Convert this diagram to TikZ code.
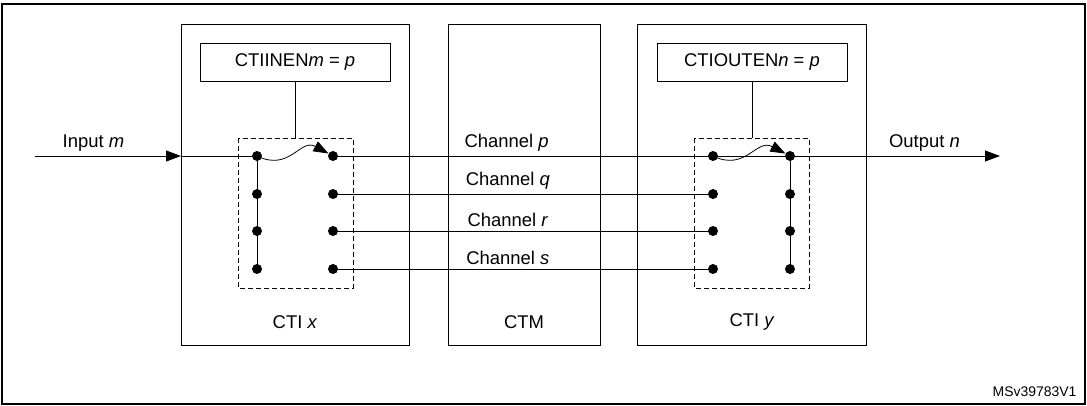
\documentclass[tikz,border=0pt]{standalone}
\usepackage{fontspec}
\setmainfont{Liberation Sans}
\usetikzlibrary{arrows.meta,positioning}

\begin{document}
\begin{tikzpicture}[x=1bp,y=-1bp,>={Triangle[length=15bp,width=11bp]},
    font=\fontsize{18.5}{22}\selectfont,
    blk/.style={draw,line width=0.8bp,minimum width=#1,minimum height=321bp,anchor=north west},
    reg/.style={draw,line width=0.8bp,minimum width=190bp,minimum height=38bp},
    dot/.style={circle,fill,inner sep=0pt,minimum size=10bp},
    box/.style={dashed,dash pattern=on 5bp off 3bp,line width=0.8bp},
    wire/.style={line width=0.8bp}]

    \useasboundingbox (0,0) rectangle (1087,405);
    \draw[line width=1.2bp] (2,4) rectangle (1085,404);

    \node[blk=228bp] (ctix) at (181,24) {};
    \node[blk=152bp] (ctm) at (448,24) {};
    \node[blk=229bp] (ctiy) at (637,24) {};

    \node at (295,322) {CTI \textit{x}};
    \node at (524,322) {CTM};
    \node at (752,322) {CTI \textit{y}};

    \node[reg] (inen) at (295,62) {CTIINEN\textit{m} = \textit{p}};
    \node[reg] (outen) at (752,62) {CTIOUTEN\textit{n} = \textit{p}};

    \draw[box] (238,138) rectangle (353,288);
    \draw[box] (694,138) rectangle (809,288);
    \coordinate (dinen) at (295,138);
    \coordinate (douten) at (752,138);
    \draw[wire] (inen.south) -- (dinen);
    \draw[wire] (outen.south) -- (douten);

    % switch dots
    \foreach \i/\y in {1/156,2/194,3/231,4/269} {
        \node[dot] (a\i) at (257,\y) {};
        \node[dot] (b\i) at (333,\y) {};
        \node[dot] (c\i) at (713,\y) {};
        \node[dot] (d\i) at (790,\y) {};
    }
    \draw[wire] (a1.center) -- (a4.center);
    \draw[wire] (d1.center) -- (d4.center);

    % channels
    \draw[wire] (b1.center) -- node[above=1bp,pos=0.38] {Channel \textit{p}} (d1.center);
    \draw[wire] (b2.center) -- node[above=1bp,pos=0.46] {Channel \textit{q}} (c2.center);
    \draw[wire] (b3.center) -- node[above=1bp,pos=0.46] {Channel \textit{r}} (c3.center);
    \draw[wire] (b4.center) -- node[above=1bp,pos=0.46] {Channel \textit{s}} (c4.center);

    \coordinate (in) at (35,156);
    \coordinate (out) at (1000,156);
    \coordinate (inx) at (181,156);
    \draw[wire,->] (in) -- node[above=1bp,pos=0.4] {Input \textit{m}} (inx);
    \draw[wire] (inx) -- (a1.center);
    \draw[wire,->] (d1.center) -- node[above=1bp,pos=0.64] {Output \textit{n}} (out);

    \draw[wire,->] (a1.center) .. controls (290,172) and (300,138) .. (b1);
    \draw[wire,->] (c1.center) .. controls (746,172) and (756,138) .. (d1);

    \node[font=\fontsize{14}{16}\selectfont,anchor=south east] (tag) at (1080,400) {MSv39783V1};
\end{tikzpicture}
\end{document}
